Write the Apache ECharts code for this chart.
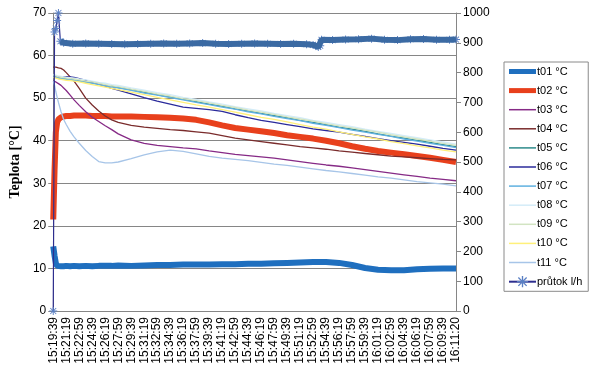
<!DOCTYPE html>
<html><head><meta charset="utf-8">
<script src="https://cdn.jsdelivr.net/npm/echarts@6/dist/echarts.min.js"></script>
<style>html,body{margin:0;padding:0;background:#fff}#c{width:600px;height:378px}</style>
</head><body><div id="c"></div>
<script>
const tickLabels = ['15:19:39','15:21:19','15:22:59','15:24:39','15:26:19','15:27:59','15:29:39','15:31:19','15:32:59','15:34:39','15:36:19','15:37:59','15:39:39','15:41:19','15:42:59','15:44:39','15:46:19','15:47:59','15:49:39','15:51:19','15:52:59','15:54:39','15:56:19','15:57:59','15:59:39','16:01:19','16:02:59','16:04:39','16:06:19','16:07:59','16:09:39','16:11:20'];

// seconds after 15:19:39
const times = [0,10,20,30,40,60,80,100,130,160,200,250,300,350,400,450,500,600,700,800,900,1000,1100,1200,1300,1400,1500,1600,1700,1800,1900,2000,2100,2200,2300,2400,2500,2600,2700,2800,2900,3000,3100];

const t01 = [15.2,13.0,11.2,10.6,10.4,10.5,10.5,10.6,10.5,10.6,10.5,10.6,10.5,10.6,10.6,10.6,10.7,10.6,10.7,10.8,10.8,10.9,10.9,10.9,11.0,11.0,11.1,11.1,11.2,11.3,11.4,11.5,11.5,11.3,10.8,10.1,9.7,9.6,9.6,9.8,9.9,10.0,10.0];
const t02 = [21.5,33.0,42.0,44.3,45.0,45.5,45.7,45.8,45.8,45.9,45.9,45.9,45.8,45.8,45.8,45.7,45.7,45.7,45.6,45.5,45.4,45.2,44.9,44.3,43.6,43.0,42.6,42.2,41.8,41.3,40.9,40.5,40.0,39.4,38.7,38.1,37.6,37.2,36.8,36.4,36.0,35.5,35.0];
const t03 = [54.0,54.0,53.8,53.6,53.4,53.0,52.4,51.8,50.7,49.6,48.3,46.8,45.5,44.5,43.5,42.6,41.6,40.2,39.4,38.9,38.6,38.3,38.1,37.6,37.2,36.8,36.5,36.2,35.9,35.5,35.1,34.7,34.3,34.0,33.6,33.2,32.8,32.4,32.0,31.6,31.2,30.9,30.6];
const t04 = [57.3,57.3,57.3,57.2,57.1,57.0,56.6,56.0,55.0,54.0,52.3,50.0,48.4,47.0,45.8,44.9,44.3,43.6,43.2,42.9,42.6,42.4,42.1,41.8,41.2,40.6,40.2,39.8,39.4,39.0,38.6,38.3,38.0,37.6,37.3,37.0,36.7,36.4,36.2,36.0,35.8,35.6,35.5];
const t05 = [55.3,55.2,55.1,55.0,54.9,54.8,54.7,54.6,54.5,54.3,54.1,53.9,53.6,53.3,53.0,52.8,52.5,52.0,51.4,50.8,50.3,49.7,49.2,48.6,48.1,47.5,47.0,46.4,45.9,45.4,44.8,44.3,43.8,43.2,42.7,42.2,41.6,41.1,40.6,40.1,39.6,39.1,38.6];
const t06 = [55.0,55.0,55.0,55.0,55.0,55.0,55.0,55.0,55.0,54.9,54.6,54.2,53.8,53.3,52.8,52.3,51.9,51.0,50.1,49.3,48.6,47.9,47.6,47.3,46.9,46.1,45.4,44.8,44.3,43.8,43.3,42.8,42.4,42.0,41.5,41.0,40.5,40.0,39.6,39.2,38.7,38.2,37.8];
const t07 = [55.1,55.0,54.9,54.8,54.7,54.6,54.5,54.4,54.3,54.2,54.0,53.7,53.5,53.2,52.9,52.6,52.4,51.8,51.2,50.7,50.1,49.6,49.0,48.5,47.9,47.4,46.8,46.3,45.7,45.2,44.7,44.1,43.6,43.1,42.5,42.0,41.5,41.0,40.4,39.9,39.4,38.9,38.4];
const t08 = [55.6,55.5,55.4,55.3,55.2,55.1,55.0,54.9,54.8,54.7,54.5,54.3,54.0,53.7,53.5,53.2,53.0,52.4,51.9,51.3,50.8,50.2,49.7,49.1,48.6,48.0,47.5,47.0,46.4,45.9,45.4,44.8,44.3,43.8,43.3,42.7,42.2,41.7,41.2,40.7,40.2,39.7,39.2];
const t09 = [55.4,55.3,55.2,55.1,55.0,54.9,54.8,54.7,54.6,54.5,54.3,54.0,53.8,53.5,53.2,52.9,52.7,52.1,51.6,51.0,50.5,49.9,49.4,48.9,48.3,47.8,47.2,46.7,46.2,45.6,45.1,44.6,44.0,43.5,43.0,42.5,42.0,41.4,40.9,40.4,39.9,39.4,38.9];
const t10 = [54.9,54.8,54.7,54.6,54.5,54.4,54.3,54.2,54.1,54.0,53.8,53.5,53.2,52.9,52.6,52.3,52.0,51.4,50.8,50.2,49.6,49.0,48.4,47.9,47.3,46.7,46.1,45.5,45.0,44.4,43.8,43.2,42.7,42.1,41.5,40.9,40.4,39.8,39.3,38.8,38.3,37.8,37.4];
const t11 = [54.0,53.0,51.5,50.2,49.0,46.8,45.0,43.8,42.2,40.9,39.4,37.7,36.3,35.1,34.8,34.8,35.0,35.8,36.7,37.4,37.8,37.5,36.9,36.3,35.9,35.6,35.3,34.9,34.5,34.2,33.8,33.4,33.0,32.7,32.3,31.9,31.5,31.2,30.8,30.4,30.1,29.8,29.4];

const flowTimes = [0,10,20,30,40,55,80,150,250,350,450,550,650,750,850,950,1050,1150,1250,1350,1450,1550,1650,1750,1850,1950,2000,2040,2055,2065,2150,2250,2350,2450,2550,2650,2750,2850,2950,3050,3100];
const flowValues = [0,936,948,975,1000,905,900,897,898,897,896,895,896,897,898,897,898,899,897,896,897,898,897,896,897,895,893,886,890,910,909,911,912,914,910,909,912,913,910,910,911];

const names = ['t01 °C','t02 °C','t03 °C','t04 °C','t05 °C','t06 °C','t07 °C','t08 °C','t09 °C','t10 °C','t11 °C','průtok l/h'];
const colors = ['#1f6fbf','#e8401c','#862a86','#7a2c2c','#2e8b8b','#2b2b9b','#5fb0e0','#d4ecf8','#d2e4c2','#fff07a','#a7c5e8'];
const widths = [6,6,1.3,1.3,1.3,1.3,1.3,1.3,1.3,1.3,1.3];
const tSeries = [t01,t02,t03,t04,t05,t06,t07,t08,t09,t10,t11];

const asterisk = 'path://M0,4.4L10,4.4L10,5.6L0,5.6Z M4.4,0L5.6,0L5.6,10L4.4,10Z M0.9,1.7L1.7,0.9L9.1,8.3L8.3,9.1Z M8.3,0.9L9.1,1.7L1.7,9.1L0.9,8.3Z';
const barIcon = w => 'path://M0,0L27,0L27,' + w + 'L0,' + w + 'Z';

const series = tSeries.map((arr, i) => ({
  name: names[i], type: 'line', yAxisIndex: 0, symbol: 'none', smooth: false,
  lineStyle: {color: colors[i], width: widths[i]}, itemStyle: {color: colors[i]},
  data: times.map((t, k) => [t, arr[k]]), animation: false
}));
const flowData = flowTimes.map((t, k) => [t, flowValues[k]]);
series.push({
  name: names[11], type: 'line', yAxisIndex: 1, symbol: asterisk, symbolSize: 8, showSymbol: true,
  lineStyle: {color: '#2e2e8e', width: 1.2}, itemStyle: {color: '#5b80c4'},
  data: flowData, animation: false, z: 3
});
series.push({
  name: 'flowband', type: 'line', yAxisIndex: 1, symbol: 'none',
  lineStyle: {color: '#3b6aa3', width: 6}, data: flowData.slice(5), animation: false, z: 4
});

const legendData = names.map((n, i) => i < 11
  ? {name: n, icon: barIcon(i < 2 ? 5 : 1.5)}
  : {name: n});

const chart = echarts.init(document.getElementById('c'), null, {renderer: 'canvas'});
chart.setOption({
  backgroundColor: '#fff',
  textStyle: {fontFamily: 'Liberation Sans, Arial, sans-serif'},
  grid: {left: 52, right: 144, top: 13, bottom: 67, containLabel: false},
  legend: {
    orient: 'vertical', left: 504, top: 62, data: legendData,
    itemWidth: 27, itemHeight: 14, itemGap: 8.1, padding: [4, 6, 4, 4],
    borderColor: '#8a8a8a', borderWidth: 1, backgroundColor: '#fff',
    textStyle: {fontSize: 11, color: '#000', fontFamily: 'Liberation Sans, Arial, sans-serif', padding: [0,0,0,-4]}
  },
  xAxis: {
    type: 'value', min: 0, max: 3100, interval: 100,
    axisLine: {show: true, lineStyle: {color: '#868686'}},
    axisTick: {show: false},
    splitLine: {show: false},
    axisLabel: {rotate: 90, fontSize: 12, color: '#000', margin: 6, showMinLabel: true, showMaxLabel: true,
      formatter: v => tickLabels[Math.round(v / 100)] || ''}
  },
  yAxis: [
    {type: 'value', min: 0, max: 70, interval: 10,
     name: 'Teplota [°C]', nameLocation: 'middle', nameGap: 30,
     nameTextStyle: {fontFamily: 'Liberation Serif, Times New Roman, serif', fontWeight: 'bold', fontSize: 14, color: '#000'},
     axisLine: {show: true, lineStyle: {color: '#868686'}},
     axisTick: {show: true, length: 5, lineStyle: {color: '#868686'}},
     splitLine: {show: true, lineStyle: {color: '#868686', width: 1}},
     axisLabel: {fontSize: 12, color: '#000', margin: 7, formatter: v => String(v)}},
    {type: 'value', min: 0, max: 1000, interval: 100, position: 'right',
     axisLine: {show: true, lineStyle: {color: '#868686'}},
     axisTick: {show: true, length: 5, lineStyle: {color: '#868686'}},
     splitLine: {show: false},
     axisLabel: {fontSize: 12, color: '#000', margin: 7, formatter: v => String(v)}}
  ],
  series: series
});
</script></body></html>
